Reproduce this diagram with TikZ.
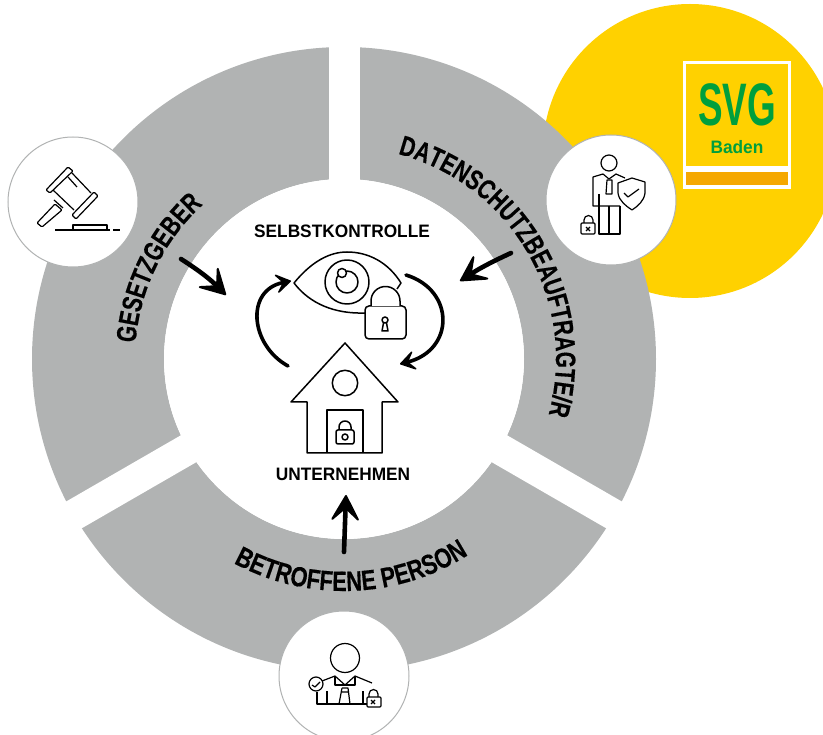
\documentclass[tikz,border=0pt]{standalone}
\usepackage{fontspec}
\setmainfont{Liberation Sans}
\newfontfamily\ringfont{Liberation Sans}[FakeStretch=0.745,BoldFeatures={FakeBold=0.3}]
\newfontfamily\lowerfont{Liberation Sans}[FakeStretch=0.78,BoldFeatures={FakeBold=0.3}]
\newfontfamily\capfont{Liberation Sans}[FakeStretch=0.96]
\usetikzlibrary{arrows.meta,decorations.text}
\definecolor{ringgray}{HTML}{B1B3B3}
\definecolor{svgyellow}{HTML}{FFD100}
\definecolor{svgorange}{HTML}{F5A800}
\definecolor{svggreen}{HTML}{009F3D}
\tikzset{
  badge/.style={circle,draw=ringgray,fill=white,line width=1pt,minimum size=130pt,inner sep=0pt},
  icon/.style={line width=1.2pt,line join=round},
  bigicon/.style={line width=1.5pt,line join=round},
  flow/.style={line width=4.6pt,line cap=round,-{Stealth[length=30pt,width=33pt,inset=15pt,round,line width=2pt]}},
  cycleflow/.style={line width=3.6pt,line cap=round,-{Stealth[length=18pt,width=23pt,inset=9pt,round,line width=1.5pt]}},
  caption/.style={font=\capfont\bfseries\fontsize{18}{20}\selectfont,inner sep=0pt},
  ringtext/.style={decorate,decoration={text along path,text align=center,text={|\ringfont\bfseries\fontsize{28}{30}\selectfont|#1}}},
  lowertext/.style={decorate,decoration={text along path,text align=center,text={|\lowerfont\bfseries\fontsize{28}{30}\selectfont|#1}}}
}
\begin{document}
\begin{tikzpicture}[x=1pt,y=-1pt]
\useasboundingbox (0,0) rectangle (823,735);
\clip (0,0) rectangle (823,735);

% yellow disc and logo
\fill[svgyellow] (690,151) circle (147);
\fill[white] (683,61) rectangle (791,189);
\fill[svgyellow] (686,64) rectangle (788,166);
\fill[svgorange] (686,172) rectangle (788,185);
\node[text=svggreen,inner sep=0pt,xscale=0.64,font=\capfont\bfseries\fontsize{60}{60}\selectfont] (svgName) at (737,105) {SVG};
\node[text=svggreen,inner sep=0pt,font=\capfont\bfseries\fontsize{18}{20}\selectfont] (svgPlace) at (737,147) {Baden};

% ring with three gaps
\coordinate (ctr) at (344,359);
\fill[ringgray,even odd rule] (ctr) circle (312) (ctr) circle (180);
\foreach \a in {-90,30,150}
  \draw[white,line width=31pt] (ctr) -- ++(\a:330);
\fill[white] (ctr) circle (180);

% ring labels
\path[ringtext={GESETZGEBER}] (ctr) ++(-184:209) arc[start angle=-184,end angle=-124,radius=209];
\path[ringtext={DATENSCHUTZBEAUFTRAGTE/R}] (ctr) ++(-80:212) arc[start angle=-80,end angle=20,radius=212];
\path[lowertext={BETROFFENE PERSON}] (ctr) ++(125:232) arc[start angle=125,end angle=51,radius=232];

% badges
\node[badge] (lawBadge) at (73,202) {};
\node[badge] (dpoBadge) at (611,200) {};
\node[badge] (personBadge) at (344,676) {};

% gavel
\draw[icon,rounded corners=1pt] (46,190) -- (68,167) -- (73,171) -- (50,193) -- cycle;
\draw[icon,rounded corners=1pt] (72,215) -- (94,192) -- (98,196) -- (76,219) -- cycle;
\draw[icon] (53,190) -- (74,210) (72,173) -- (91,193) (68,177) -- (77,187);
\draw[icon,rounded corners=1pt] (37,223) -- (55,204) -- (62,210) -- (42,227) -- cycle;
\draw[icon] (54,200) -- (63,208);
\draw[icon] (73,230) -- (73,225) -- (107,225) -- (107,230);
\draw[icon] (55,230) -- (110,230) (113,230) -- (120,230);

% data protection officer
\draw[icon] (609,163) circle (8);
\draw[icon] (625,178) -- (616,174) -- (609,179) -- (603,174) -- (593,177) -- (593,206) -- (620,206);
\draw[icon] (599,194) -- (599,234) -- (620,234) -- (620,206) (609,206) -- (609,234);
\draw[icon] (607,180) -- (612,180) -- (612,194) -- (606,194) -- cycle;
\draw[icon,fill=white] (618,183) -- (632,178) -- (645,182) -- (645,193) .. controls (644,201) and (638,206) .. (632,210) .. controls (626,206) and (619,201) .. (618,193) -- cycle;
\draw[icon] (624,193) -- (628,197) -- (639,189);
\draw[icon,rounded corners=1pt] (581,223) rectangle (595,234);
\draw[icon] (584,223) -- (584,220) arc[start angle=180,end angle=360,radius=4.5] -- (593,223);
\draw[icon] (586,227) -- (590,231) (590,227) -- (586,231);

% affected person
\draw[icon] (345,658) circle (14.5);
\draw[icon] (322,681) -- (335,676) -- (345,685) -- (355,676) -- (372,683);
\draw[icon] (335,676) -- (335,685) -- (355,685) -- (355,676);
\draw[icon] (317,692) -- (317,704) -- (367,704) (327,691) -- (327,704) (363,691) -- (363,704);
\draw[icon] (342,688) -- (348,688) -- (350,704) (342,688) -- (339,704) (342,692) -- (348,692);
\draw[icon] (316,684) circle (7);
\draw[icon] (312,685) -- (315,687) -- (320,682);
\draw[icon,rounded corners=1pt] (367,697) rectangle (381,707);
\draw[icon] (369,697) -- (369,694) arc[start angle=180,end angle=360,radius=4.5] -- (378,697);
\draw[icon] (371,700) -- (375,704) (375,700) -- (371,704);

% eye with lock
\draw[bigicon] (294,283) .. controls (312,261) and (330,252) .. (347,252) .. controls (368,252) and (388,262) .. (401,283) -- (397,289);
\draw[bigicon] (294,283) .. controls (310,304) and (335,314) .. (365,313);
\draw[bigicon] (347,282) circle (22);
\draw[bigicon] (347,282) circle (11);
\draw[bigicon,fill=white] (342,273) circle (4.5);
\draw[bigicon,fill=white,rounded corners=4pt] (365,306) rectangle (406,339);
\draw[bigicon,fill=white] (371,306) -- (371,301) arc[start angle=180,end angle=360,radius=14.5] -- (400,306);
\draw[bigicon] (385,320) circle (3) (383.5,323) -- (382,331) -- (388,331) -- (386.5,323);

% house
\draw[bigicon] (307,453) -- (307,402) -- (291,402) -- (345,343) -- (398,402) -- (382,402) -- (382,453) -- cycle;
\draw[bigicon] (345,383) circle (12.7);
\draw[bigicon] (327,453) -- (327,410) -- (363,410) -- (363,453);
\draw[bigicon,rounded corners=2pt] (336,430) rectangle (354,444);
\draw[bigicon] (339,430) -- (339,427) arc[start angle=180,end angle=360,radius=6] -- (351,430);
\draw[bigicon] (345,437) circle (3);

% captions
\node[caption] (controlCap) at (342,231) {SELBSTKONTROLLE};
\node[caption] (companyCap) at (343,474) {UNTERNEHMEN};

% arrows
\coordinate (lawStart) at (181,259);
\coordinate (lawEnd) at (226,295);
\coordinate (dpoStart) at (511,253);
\coordinate (dpoEnd) at (460,281);
\coordinate (personStart) at (344,552);
\coordinate (personEnd) at (346,495);
\coordinate (cycleA) at (288,366);
\coordinate (cycleB) at (291,281);
\coordinate (cycleC) at (406,275);
\coordinate (cycleD) at (400,364);
\draw[flow] (lawStart) to[bend left=6] (lawEnd);
\draw[flow] (dpoStart) to[bend right=4] (dpoEnd);
\draw[flow] (personStart) -- (personEnd);
\draw[cycleflow] (cycleA) .. controls (250,345) and (245,290) .. (cycleB);
\draw[cycleflow] (cycleC) .. controls (455,290) and (455,350) .. (cycleD);
\end{tikzpicture}
\end{document}
